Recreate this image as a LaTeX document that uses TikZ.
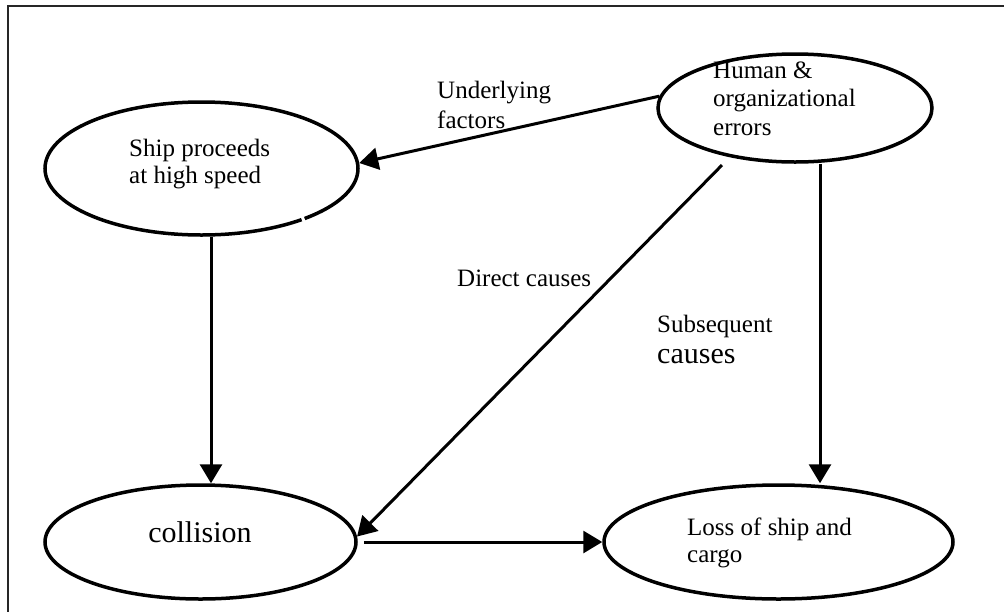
\documentclass[tikz,border=0pt]{standalone}
\usepackage{fontspec}
\setmainfont{Liberation Serif}
\usetikzlibrary{arrows.meta,shapes.geometric}
\newcommand\normtxt{\fontsize{25}{28}\selectfont}
\newcommand\bigtxt{\fontsize{30}{33}\selectfont}
\begin{document}
\begin{tikzpicture}[x=1pt,y=-1pt,
  oval/.style={draw, ellipse, line width=3.5pt, inner sep=0pt},
  txt/.style={inner sep=0pt, anchor=base west, align=left, font=\normtxt},
  arr/.style={line width=3pt, -{Triangle[length=19pt,width=22pt]}}]
\useasboundingbox (0,0) rectangle (1004,611);
% frame (only top and left edges fall inside the picture)
\draw[line width=2pt, black!85] (8,620) -- (8,6) -- (1012,6);

% ellipses
\node[oval, minimum width=313pt, minimum height=133pt] (ship) at (201.5,168.5) {};
\node[oval, minimum width=274pt, minimum height=108pt] (human) at (795,108) {};
\node[oval, minimum width=311pt, minimum height=114pt] (coll) at (200.5,542) {};
\node[oval, minimum width=349pt, minimum height=114pt] (loss) at (778.5,542) {};
% small break in the ship ellipse outline
\draw[white, line width=3pt] (300.5,212.5) -- (304.5,222.5);

% texts in ellipses (base anchor = baseline of the last line)
\node[txt, font=\fontsize{25}{27}\selectfont] (shiptxt) at (129,183) {Ship proceeds\\at high speed};
\node[txt, font=\fontsize{25}{28.5}\selectfont] (humantxt) at (713,135) {Human \&\\organizational\\errors};
\node[inner sep=0pt, anchor=base, font=\bigtxt] (colltxt) at (200,542) {collision};
\node[txt, font=\fontsize{25}{26.5}\selectfont] (losstxt) at (687,562) {Loss of ship and\\cargo};

% connector labels
\node[txt, font=\fontsize{25}{30}\selectfont] (lunder) at (437,128) {Underlying\\factors};
\node[txt] (ldirect) at (457,286) {Direct causes};
\node[txt] (lsub) at (657,363) {Subsequent\\[3pt]{\bigtxt causes}};

% connectors
\draw[arr] (human.175) -- (ship.2);
\draw[arr, shorten <=11pt] (human.217) -- (coll.2);
\draw[arr] ([xshift=25pt]human.south) -- ([xshift=41.5pt]loss.north);
\draw[arr] ([xshift=9.5pt]ship.south) -- ([xshift=10.5pt]coll.north);
\draw[arr, shorten <=6pt] (coll.east) -- (loss.west);
\end{tikzpicture}
\end{document}
